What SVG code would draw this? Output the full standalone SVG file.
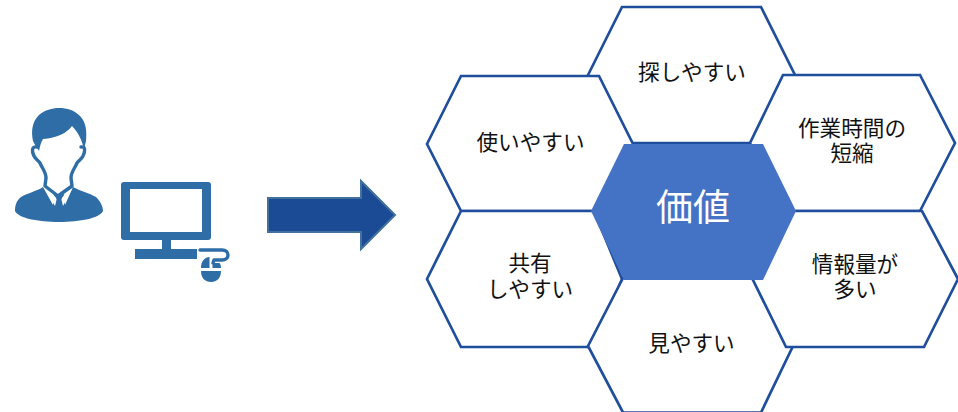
<svg xmlns="http://www.w3.org/2000/svg" width="958" height="412" viewBox="0 0 958 412">
<style>
.hex{fill:#fff;stroke:#1f4e9c;stroke-width:2.7;stroke-linejoin:miter}
.t{font-family:"Noto Sans CJK JP","Noto Sans",sans-serif;font-size:21.6px;fill:#111;text-anchor:middle}
.ic{fill:#2e6da6}
.ln{fill:none;stroke:#2e6da6;stroke-width:3.4;stroke-linecap:round;stroke-linejoin:round}
</style>
<rect width="958" height="412" fill="#fff"/>
<g id="user">
<path class="ic" d="M33,141C31,131 32,122 39,115C45,110 52,108 59,108C67,108 74,110 80,116C86,122 87,131 86,141L84,149C82,141 79,133 72,126C67,133 57,138 43,139C41,142 40,146 39,151C37,148 35,145 33,141Z"/>
<path class="ln" d="M37,147C31,146 32,152 34,156C36,160 39,161 40,163C42,168 46,172 46,178L45,186L58,196L72,186L71,178C71,172 75,168 77,163C78,161 81,160 83,156C85,152 86,146 81,147"/>
<path class="ic" d="M43,187C37,191 28,193 21,197C16,201 15,206 15,211C18,218 38,222 59,222C80,222 100,218 103,211C103,206 100,201 96,197C89,193 80,191 73,187L65,205L64,195L67,193L59,198L51,193L54,195L53,205Z"/>
<path d="M45,189L55,206L57,198ZM72,189L63,206L61,198Z" fill="#fff"/>
<path class="ic" d="M54,194L64,194L61,200L63,210L59,213L55,210L57,200Z"/>
</g>
<g id="computer">
<path class="ic" fill-rule="evenodd" d="M124,182H208Q211,182 211,185V237Q211,240 208,240H171V249H197V259H135V249H162V240H124Q121,240 121,237V185Q121,182 124,182ZM130,189V232H202V189Z"/>
<path class="ln" d="M200,250H222C230,250 230,260 222,260H214L213,263" stroke-width="2.4"/>
<path class="ic" d="M201,268C201,261 205,257 209.500,257V268ZM212.500,263V268H221C221,265 220,263 219,263ZM201,271H221C221,278 217,282 211,282C205,282 201,278 201,271Z"/>
</g>
<g id="connectors">
<path d="M268,198H361V181L395,215L361,249V232H268Z" fill="#1c4b96" stroke="#41719c" stroke-width="2"/>
</g>
<g id="node-sagashi">
<path class="hex" d="M588,75L622,7H761L795,75L761,143H622Z"/>
<text class="t" x="692" y="80">探しやすい</text>
</g>
<g id="node-sagyo">
<path class="hex" d="M750,143L783,75H920L955,143L920,211H783Z"/>
<text class="t" x="852" y="136">作業時間の</text>
<text class="t" x="852" y="161">短縮</text>
</g>
<g id="node-tsukai">
<path class="hex" d="M427,144L461,76H599L633,144L599,211H461Z"/>
<text class="t" x="530.500" y="150">使いやすい</text>
</g>
<g id="node-kyoyu">
<path class="hex" d="M427,279L461,211H594L622,279L594,347H461Z"/>
<text class="t" x="530" y="271">共有</text>
<text class="t" x="530" y="297">しやすい</text>
</g>
<g id="node-mi">
<path class="hex" d="M588,346L623,278H760L793,346L761,412.500H623Z"/>
<text class="t" x="691.500" y="351">見やすい</text>
</g>
<g id="node-joho">
<path class="hex" d="M753,280L786,211H922L958,279L924,347H786Z"/>
<text class="t" x="855" y="272">情報量が</text>
<text class="t" x="855" y="297">多い</text>
</g>
<g id="node-kachi">
<path d="M624,144H763L796,211L763,280H624L591,211Z" fill="#4472c4"/>
<text x="693" y="221" font-family="'Noto Sans CJK JP','Noto Sans',sans-serif" font-size="37" fill="#fff" text-anchor="middle">価値</text>
</g>
</svg>
